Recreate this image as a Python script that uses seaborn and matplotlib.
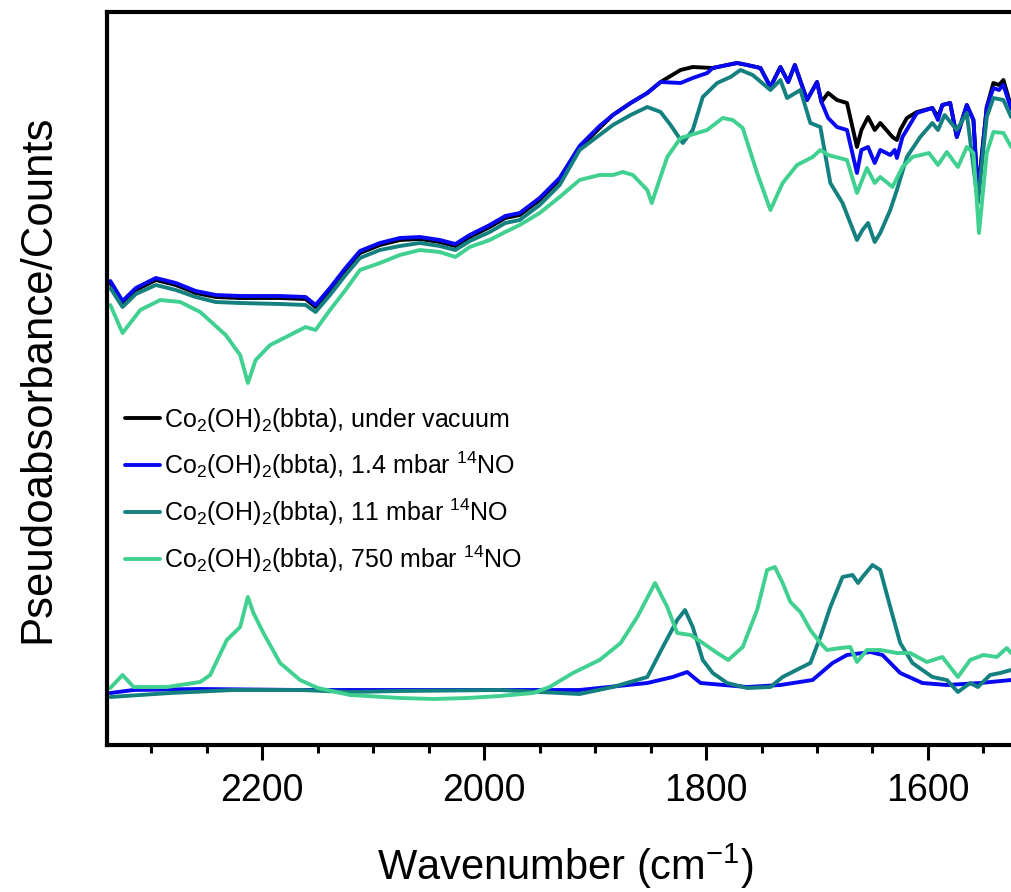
import numpy as np
import pandas as pd
import matplotlib
matplotlib.use("Agg")
import matplotlib.pyplot as plt
from matplotlib.ticker import MultipleLocator
import seaborn as sns

# ---------------- data (wavenumber in cm-1, pseudoabsorbance in arbitrary units) ----------------
labels = [
    r"Co$_2$(OH)$_2$(bbta), under vacuum",
    r"Co$_2$(OH)$_2$(bbta), 1.4 mbar $^{14}$NO",
    r"Co$_2$(OH)$_2$(bbta), 11 mbar $^{14}$NO",
    r"Co$_2$(OH)$_2$(bbta), 750 mbar $^{14}$NO",
]
colors = ["#000000", "#0808f2", "#148080", "#40d090"]

# upper spectra
vac_wn = [2337, 2326, 2314, 2296, 2278, 2260, 2242, 2220, 2184, 2161, 2152, 2139, 2125, 2112, 2094, 2076,
          2058, 2040, 2026, 2013, 1995, 1981, 1968, 1950, 1932, 1914, 1896, 1884, 1868, 1853, 1841, 1823,
          1812, 1794, 1781, 1772, 1763, 1751, 1742, 1733, 1726, 1720, 1709, 1700, 1696, 1690, 1682, 1673,
          1664, 1660, 1654, 1648, 1643, 1632, 1628, 1625, 1619, 1610, 1596, 1591, 1587, 1580, 1574, 1565,
          1559, 1555, 1547, 1541, 1536, 1532, 1525]
vac_y = [462, 442, 455, 465, 460, 452, 448, 447, 447, 446, 438, 455, 475, 492, 500, 505,
         506, 503, 499, 508, 518, 527, 530, 545, 565, 597, 617, 630, 642, 652, 663, 675,
         678, 677, 680, 682, 680, 677, 658, 678, 663, 680, 645, 663, 643, 652, 645, 642,
         598, 615, 628, 615, 622, 608, 605, 615, 627, 633, 637, 628, 640, 642, 608, 640,
         625, 552, 638, 662, 660, 665, 638]

nob_wn = [2337, 2326, 2314, 2296, 2278, 2260, 2242, 2220, 2184, 2161, 2152, 2139, 2125, 2112, 2094, 2076,
          2058, 2040, 2026, 2013, 1995, 1981, 1968, 1950, 1932, 1914, 1896, 1884, 1868, 1853, 1841, 1823,
          1812, 1799, 1794, 1781, 1772, 1763, 1751, 1742, 1733, 1726, 1720, 1709, 1700, 1696, 1690, 1682,
          1673, 1664, 1660, 1654, 1648, 1643, 1634, 1630, 1628, 1623, 1610, 1596, 1591, 1587, 1580, 1574,
          1565, 1559, 1555, 1547, 1541, 1536, 1532, 1525]
nob_y = [464, 444, 457, 467, 462, 454, 450, 449, 449, 448, 440, 457, 477, 494, 502, 507,
         508, 505, 501, 510, 520, 529, 532, 547, 567, 599, 619, 630, 642, 652, 663, 662,
         667, 672, 677, 680, 682, 680, 677, 658, 678, 663, 680, 645, 663, 643, 627, 618,
         615, 572, 595, 598, 582, 595, 590, 595, 587, 608, 632, 637, 625, 640, 642, 608,
         640, 625, 548, 638, 657, 655, 660, 636]

n11_wn = [2337, 2326, 2314, 2296, 2278, 2260, 2242, 2220, 2184, 2161, 2152, 2139, 2125, 2112, 2094, 2076,
          2058, 2040, 2026, 2013, 1995, 1981, 1968, 1950, 1932, 1914, 1896, 1884, 1868, 1853, 1841, 1832,
          1821, 1812, 1803, 1790, 1778, 1769, 1758, 1742, 1733, 1727, 1715, 1706, 1697, 1688, 1677, 1664,
          1659, 1654, 1648, 1643, 1634, 1628, 1619, 1607, 1596, 1591, 1585, 1574, 1565, 1555, 1547, 1541,
          1532, 1525]
n11_y = [457, 438, 451, 460, 455, 448, 443, 442, 441, 440, 433, 450, 470, 487, 495, 499,
         502, 499, 495, 504, 513, 522, 525, 540, 560, 595, 610, 620, 630, 638, 633, 620,
         602, 615, 648, 662, 668, 675, 670, 655, 665, 647, 655, 622, 618, 562, 542, 505,
         515, 522, 503, 512, 535, 555, 588, 608, 622, 615, 630, 615, 632, 542, 628, 647,
         645, 628]

n750_wn = [2337, 2326, 2310, 2292, 2274, 2256, 2233, 2220, 2213, 2206, 2193, 2175, 2161, 2152, 2139, 2125,
           2112, 2094, 2076, 2058, 2040, 2026, 2013, 1995, 1981, 1968, 1950, 1932, 1914, 1896, 1884, 1875,
           1866, 1853, 1849, 1835, 1823, 1799, 1785, 1776, 1767, 1754, 1742, 1731, 1718, 1704, 1697, 1690,
           1673, 1664, 1655, 1648, 1643, 1632, 1623, 1614, 1599, 1591, 1583, 1573, 1565, 1559, 1554, 1547,
           1541, 1532, 1525]
n750_y = [440, 412, 435, 445, 443, 433, 410, 390, 362, 385, 400, 410, 418, 415, 435, 455,
          475, 482, 490, 495, 493, 488, 498, 505, 513, 520, 532, 548, 565, 570, 570, 573,
          570, 555, 542, 588, 607, 615, 627, 625, 617, 572, 535, 562, 580, 588, 595, 590,
          585, 552, 577, 562, 568, 558, 578, 588, 592, 580, 593, 578, 598, 592, 512, 592,
          613, 612, 598]

# difference spectra (lower group)
d14_wn = [2337, 2316, 2256, 2166, 2076, 1986, 1914, 1853, 1830, 1817, 1805, 1763, 1733, 1704, 1686, 1673,
          1652, 1641, 1625, 1605, 1583, 1553, 1525]
d14_y = [52, 55, 56, 55, 55, 55, 55, 62, 68, 73, 62, 58, 60, 65, 82, 90,
         93, 90, 72, 62, 60, 62, 65]

d11_wn = [2337, 2283, 2226, 2166, 2121, 2076, 1986, 1914, 1884, 1853, 1839, 1826, 1819, 1812, 1803, 1794,
          1781, 1763, 1742, 1731, 1715, 1706, 1697, 1688, 1677, 1668, 1663, 1659, 1650, 1643, 1634, 1625,
          1614, 1596, 1583, 1573, 1562, 1555, 1544, 1535, 1525]
d11_y = [48, 52, 55, 55, 53, 54, 55, 51, 58, 68, 98, 125, 135, 118, 85, 72,
         62, 57, 58, 68, 77, 82, 108, 138, 168, 170, 162, 168, 180, 175, 138, 102,
         82, 68, 65, 53, 62, 58, 70, 72, 75]

d750_wn = [2337, 2326, 2316, 2286, 2256, 2247, 2232, 2220, 2213, 2208, 2199, 2184, 2166, 2150, 2121, 2076,
           2046, 2015, 1986, 1956, 1941, 1920, 1896, 1877, 1862, 1846, 1835, 1826, 1814, 1803, 1790, 1780,
           1767, 1754, 1745, 1738, 1731, 1724, 1715, 1706, 1697, 1691, 1679, 1670, 1664, 1655, 1643, 1628,
           1616, 1601, 1587, 1573, 1562, 1550, 1538, 1529, 1525]
d750_y = [57, 70, 58, 58, 63, 70, 105, 118, 148, 132, 112, 82, 65, 57, 50, 47,
          46, 47, 49, 52, 58, 72, 85, 102, 128, 162, 138, 112, 110, 102, 92, 85,
          98, 135, 175, 178, 162, 143, 133, 115, 102, 95, 97, 98, 83, 95, 95, 92,
          92, 83, 88, 68, 85, 90, 88, 97, 92]

# ---------------- styling ----------------
sns.set_style("ticks")
plt.rcParams["font.family"] = ["Liberation Sans", "DejaVu Sans"]
plt.rcParams["mathtext.default"] = "regular"
plt.rcParams["text.color"] = "black"
plt.rcParams["axes.labelcolor"] = "black"
plt.rcParams["xtick.color"] = "black"
plt.rcParams["ytick.color"] = "black"

fig = plt.figure(figsize=(10.11, 8.92), dpi=100)
ax = fig.add_axes([107 / 1011, 1 - 745 / 892, (1050 - 107) / 1011, (745 - 12) / 892])

upper = [(vac_wn, vac_y), (nob_wn, nob_y), (n11_wn, n11_y), (n750_wn, n750_y)]
lower = [(None, None), (d14_wn, d14_y), (d11_wn, d11_y), (d750_wn, d750_y)]

LW = 2.8
for i, lab in enumerate(labels):
    wn, yv = upper[i]
    df = pd.DataFrame({"wn": wn, "y": yv})
    sns.lineplot(data=df, x="wn", y="y", ax=ax, color=colors[i], lw=LW, label=lab,
                 estimator=None, sort=True)
for i in range(4):
    wn, yv = lower[i]
    if wn is None:
        continue
    df = pd.DataFrame({"wn": wn, "y": yv})
    sns.lineplot(data=df, x="wn", y="y", ax=ax, color=colors[i], lw=LW,
                 estimator=None, sort=True, legend=False)

ax.set_xlim(2340, 1490)
ax.set_ylim(0, 733)
ax.set_yticks([])
ax.xaxis.set_major_locator(MultipleLocator(200))
ax.xaxis.set_minor_locator(MultipleLocator(50))
ax.tick_params(axis="x", which="major", direction="out", length=11, width=2.2,
               labelsize=27, pad=9, colors="black")
ax.tick_params(axis="x", which="minor", direction="out", length=6, width=2.2)
for side in ["left", "top", "bottom", "right"]:
    ax.spines[side].set_linewidth(3)
    ax.spines[side].set_color("black")

ax.set_xlabel(r"Wavenumber (cm$^{-1}$)", fontsize=30, color="black")
ax.set_ylabel("Pseudoabsorbance/Counts", fontsize=31.5, color="black")
ax.xaxis.set_label_coords((565 - 107) / 943, -(842 - 745) / 733)
ax.yaxis.set_label_coords(-(107 - 58) / 943, 0.5)

leg = ax.legend(loc="upper left", bbox_to_anchor=(0.0, 0.487), frameon=False, fontsize=18,
                handlelength=1.4, handletextpad=0.2, labelspacing=0.63, borderaxespad=0.3)
for h in leg.get_lines():
    h.set_linewidth(2.8)
for t in leg.get_texts():
    t.set_color("black")

fig.savefig("out.png", dpi=100)
